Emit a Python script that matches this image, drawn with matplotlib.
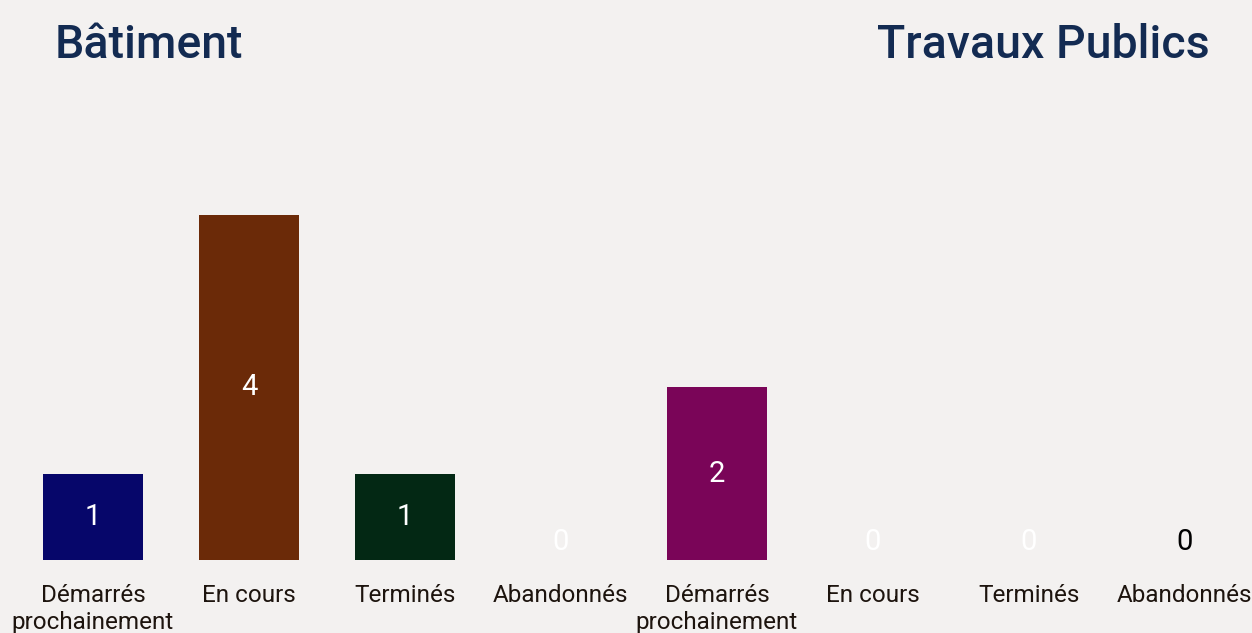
import matplotlib
matplotlib.use("Agg")
import matplotlib.pyplot as plt

plt.rcParams["font.family"] = ["Roboto", "DejaVu Sans"]

# data
categories = ["Démarrés\nprochainement", "En cours", "Terminés", "Abandonnés",
              "Démarrés\nprochainement", "En cours", "Terminés", "Abandonnés"]
values = [1, 4, 1, 0, 2, 0, 0, 0]
bar_colors = ["#06066a", "#6b2a08", "#032814", "#f3f1f0",
              "#7a0558", "#f3f1f0", "#f3f1f0", "#f3f1f0"]
label_colors = ["white", "white", "white", "white",
                "white", "white", "white", "black"]
group_titles = ["Bâtiment", "Travaux Publics"]

bg = "#f3f1f0"
fig = plt.figure(figsize=(12.52, 6.33), dpi=100, facecolor=bg)
ax = fig.add_axes([0, 73 / 633, 1, 560 / 633])
ax.set_facecolor(bg)

x = list(range(len(values)))
ax.bar(x, values, width=0.64, color=bar_colors)

for xi, v, c in zip(x, values, label_colors):
    if v > 0:
        ax.annotate(str(v), (xi, v / 2), ha="center", va="center",
                    fontsize=21, color=c)
    else:
        ax.annotate(str(v), (xi, 0), xytext=(0, 13), textcoords="offset points",
                    ha="center", va="center", fontsize=21, color=c)

ax.set_xlim(-0.596, 7.43)
ax.set_ylim(0, 6.49)
ax.set_xticks(x)
ax.set_xticklabels(categories, fontsize=17.5, color="#1d140e", linespacing=1.25)
ax.tick_params(axis="x", length=0, pad=17)
ax.set_yticks([])
for s in ax.spines.values():
    s.set_visible(False)

fig.text(55 / 1252, 1 - 45 / 633, group_titles[0], ha="left", va="center",
         fontsize=33.5, fontweight="medium", color="#132b52")
fig.text(1210 / 1252, 1 - 45 / 633, group_titles[1], ha="right", va="center",
         fontsize=33.5, fontweight="medium", color="#132b52")

fig.savefig("out.png", dpi=100, facecolor=bg)
